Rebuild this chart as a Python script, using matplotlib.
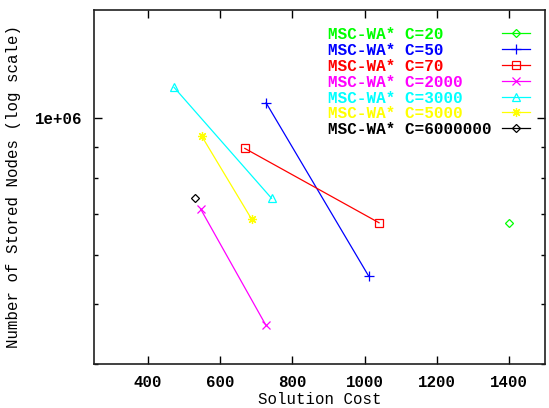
import matplotlib.pyplot as plt
import numpy as np
from matplotlib.ticker import LogLocator, NullFormatter, FixedLocator

plt.rcParams['font.family'] = ['Liberation Mono', 'DejaVu Sans Mono']
plt.rcParams['font.weight'] = 'bold'
plt.rcParams['font.size'] = 11.3

#-------- data -------------------------------------------------#
labels = ["MSC-WA* C=20", "MSC-WA* C=50", "MSC-WA* C=70", "MSC-WA* C=2000",
          "MSC-WA* C=3000", "MSC-WA* C=5000", "MSC-WA* C=6000000"]
cost_c20 = [1400]
nodes_c20 = [677000]
cost_c50 = [727, 1011]
nodes_c50 = [1060000, 555000]
cost_c70 = [668, 1040]
nodes_c70 = [894000, 677000]
cost_c2000 = [546, 726]
nodes_c2000 = [712000, 462000]
cost_c3000 = [472, 742]
nodes_c3000 = [1123000, 742000]
cost_c5000 = [549, 687]
nodes_c5000 = [935000, 686000]
cost_c6000000 = [529]
nodes_c6000000 = [742000]

colors = ['#00ff00', '#0000ff', '#ff0000', '#ff00ff', '#00ffff', '#ffff00', '#000000']
markers = ['D', '+', 's', 'x', '^', (8, 2, 0), 'D']
msizes = [4, 6.5, 6, 5.5, 6, 6.5, 4]

series = [(cost_c20, nodes_c20), (cost_c50, nodes_c50), (cost_c70, nodes_c70),
          (cost_c2000, nodes_c2000), (cost_c3000, nodes_c3000),
          (cost_c5000, nodes_c5000), (cost_c6000000, nodes_c6000000)]

fig = plt.figure(figsize=(5.49, 4.08), dpi=100)
ax = fig.add_axes([94/549, 44.5/408, 451/549, 353.5/408])

for (x, y), c, m, ms in zip(series, colors, markers, msizes):
    ax.plot(x, y, color=c, lw=0.9, marker=m, ms=ms, mfc='none', mec=c, mew=0.9)

ax.set_yscale('log')
ax.set_xlim(250, 1500)
ax.set_ylim(4e5, 1.5e6)
ax.xaxis.set_major_locator(FixedLocator([400, 600, 800, 1000, 1200, 1400]))
ax.yaxis.set_major_locator(FixedLocator([1e6]))
ax.yaxis.set_major_formatter(plt.FuncFormatter(lambda v, p: '1e+06'))
ax.yaxis.set_minor_locator(LogLocator(base=10, subs=np.arange(2, 10)))
ax.yaxis.set_minor_formatter(NullFormatter())
ax.tick_params(which='both', direction='in', top=True, right=True, width=1)
ax.tick_params(which='major', length=6, pad=8)
ax.tick_params(which='minor', length=3)
for s in ax.spines.values():
    s.set_linewidth(1.2)
    s.set_color('#202020')

ax.set_xlabel("Solution Cost", labelpad=2)
ax.set_ylabel("Number of Stored Nodes (log scale)", labelpad=10)

#-------- key, gnuplot style: text left, sample right ----------#
for i, (lab, c, m, ms) in enumerate(zip(labels, colors, markers, msizes)):
    yy = 0.934 - i * 0.0447
    ax.text(0.519, yy, lab, color=c, fontsize=11.5, transform=ax.transAxes,
            ha='left', va='center_baseline')
    ax.plot([0.905, 0.967], [yy, yy], color=c, lw=0.9, transform=ax.transAxes, clip_on=False)
    ax.plot([0.936], [yy], color=c, marker=m, ms=ms, mfc='none', mec=c, mew=0.9,
            transform=ax.transAxes, clip_on=False)

fig.savefig("out.png", dpi=100)
